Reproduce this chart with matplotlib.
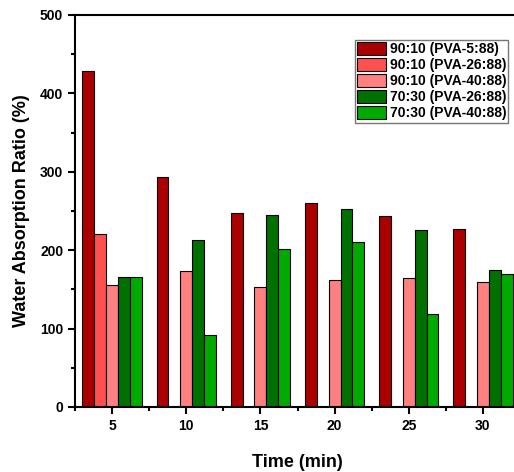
import numpy as np
import matplotlib
matplotlib.use('Agg')
import matplotlib.pyplot as plt
from matplotlib.ticker import MultipleLocator

plt.rcParams['font.family'] = ['Liberation Sans', 'DejaVu Sans']
plt.rcParams['font.weight'] = 'bold'

times = [5, 10, 15, 20, 25, 30]
labels = ['90:10 (PVA-5:88)', '90:10 (PVA-26:88)', '90:10 (PVA-40:88)',
          '70:30 (PVA-26:88)', '70:30 (PVA-40:88)']
pva5_9010 = [429, 294, 247, 260, 243, 227]
pva26_9010 = [221, np.nan, np.nan, np.nan, np.nan, np.nan]
pva40_9010 = [156, 174, 153, 162, 164, 160]
pva26_7030 = [166, 213, 245, 253, 226, 175]
pva40_7030 = [166, 92, 202, 210, 118, 170]
series = [pva5_9010, pva26_9010, pva40_9010, pva26_7030, pva40_7030]
colors = ['#AA0000', '#FF5050', '#FF8080', '#007000', '#00AA00']

fig = plt.figure(figsize=(5.14, 4.72), dpi=100)
ax = fig.add_axes([75/514, 1-407/472, 445/514, 392/472])

w = 0.8
x = np.array(times, dtype=float)
for i, (vals, c, lab) in enumerate(zip(series, colors, labels)):
    ax.bar(x + (i - 2) * w, vals, width=w, color=c, edgecolor='black',
           linewidth=0.8, label=lab)

ax.set_xlim(2.5, 32.5)
ax.set_ylim(0, 500)
ax.set_xticks(times)
ax.xaxis.set_minor_locator(MultipleLocator(2.5))
ax.yaxis.set_major_locator(MultipleLocator(100))
ax.yaxis.set_minor_locator(MultipleLocator(50))
ax.tick_params(which='major', direction='out', length=5, width=1.5, labelsize=10)
ax.tick_params(which='minor', direction='out', length=3, width=1.5)
for s in ax.spines.values():
    s.set_linewidth(1.5)

ax.set_xlabel('Time (min)', fontsize=13, fontweight='bold', labelpad=15)
ax.set_ylabel('Water Absorption Ratio (%)', fontsize=13, fontweight='bold', labelpad=7)

leg = ax.legend(loc='upper left', bbox_to_anchor=(280/445, 1-25/392),
                fontsize=10, frameon=True, fancybox=False, handlelength=2.1,
                handleheight=1.0, handletextpad=0.25, borderpad=0.15,
                labelspacing=0.15, borderaxespad=0)
leg.get_frame().set_edgecolor('#555555')
leg.get_frame().set_linewidth(1.0)

fig.savefig('out.png', dpi=100)
